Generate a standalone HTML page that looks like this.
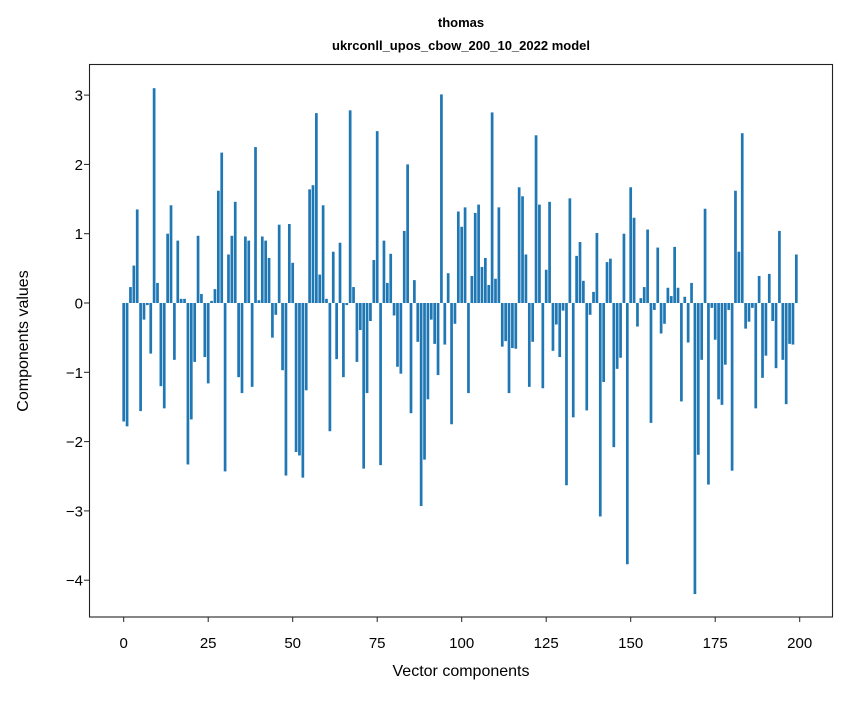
<!DOCTYPE html>
<html><head><meta charset="utf-8"><style>
body{margin:0;background:#fff;font-family:"Liberation Sans","DejaVu Sans",sans-serif}
</style></head><body>
<svg id="chart" width="847" height="696" xmlns="http://www.w3.org/2000/svg">
<rect width="847" height="696" fill="#fff"/>
<text x="461" y="27" text-anchor="middle" font-size="13" font-weight="bold">thomas</text>
<text x="461" y="50" text-anchor="middle" font-size="13" font-weight="bold">ukrconll_upos_cbow_200_10_2022 model</text>
<g id="bars"></g>
<g id="axes"></g>
<rect x="89.5" y="64.5" width="743" height="552.5" fill="none" stroke="#222" stroke-width="1.1"/>
<text x="461" y="676" text-anchor="middle" font-size="16">Vector components</text>
<text transform="translate(28,341) rotate(-90)" text-anchor="middle" font-size="16">Components values</text>
</svg>
<script>
const values = [-1.71,-1.78,0.23,0.54,1.35,-1.56,-0.24,-0.03,-0.73,3.10,0.29,-1.20,-1.52,1.00,1.41,-0.82,0.90,0.06,0.06,-2.33,
-1.68,-0.85,0.97,0.13,-0.78,-1.16,0.03,0.20,1.62,2.17,-2.43,0.70,0.97,1.46,-1.07,-1.30,0.96,0.90,-1.21,2.25,
0.04,0.96,0.90,0.65,-0.50,-0.17,1.13,-0.97,-2.49,1.14,0.58,-2.15,-2.20,-2.52,-1.26,1.64,1.70,2.74,0.41,1.41,
0.06,-1.85,0.74,-0.81,0.87,-1.07,-0.03,2.78,0.23,-0.85,-0.39,-2.39,-1.30,-0.26,0.62,2.48,-2.34,0.90,0.29,0.71,
-0.18,-0.92,-1.02,1.04,2.00,-1.59,0.33,-0.56,-2.93,-2.26,-1.39,-0.24,-0.59,-1.04,3.01,-0.60,0.43,-1.75,-0.30,1.32,
1.10,1.38,-1.30,0.39,1.30,1.42,0.52,0.65,0.26,2.75,0.35,1.38,-0.63,-0.55,-1.30,-0.65,-0.66,1.67,1.54,0.70,
-1.21,-0.56,2.42,1.42,-1.23,0.48,1.46,-0.69,-0.31,-0.78,-0.11,-2.63,1.51,-1.65,0.68,0.88,0.32,-1.55,-0.17,0.16,
1.01,-3.08,-1.14,0.59,0.64,-2.08,-0.95,-0.79,1.00,-3.77,1.67,1.23,-0.34,0.07,0.23,1.06,-1.73,-0.10,0.80,-0.44,
-0.30,0.22,0.10,0.81,0.22,-1.42,0.09,-0.57,0.29,-4.20,-2.19,-0.82,1.36,-2.62,-0.07,-0.53,-1.39,-1.47,-0.89,-0.10,
-2.42,1.62,0.74,2.45,-0.37,-0.27,-0.07,-1.52,0.39,-1.08,-0.76,0.42,-0.26,-0.94,1.04,-0.82,-1.46,-0.59,-0.60,0.70];
const xTicks = [0,25,50,75,100,125,150,175,200];
const yTicks = [-4,-3,-2,-1,0,1,2,3];
const NS="http://www.w3.org/2000/svg";
function xs(v){return 123.7+v*3.38;}
function ys(v){return 303-v*69.3;}
const bars=document.getElementById('bars');
values.forEach((v,i)=>{
  const r=document.createElementNS(NS,'rect');
  const w=0.8*3.38;
  r.setAttribute('x',xs(i)-w/2);
  r.setAttribute('y',Math.min(ys(v),ys(0)));
  r.setAttribute('width',w);
  r.setAttribute('height',Math.abs(ys(v)-ys(0)));
  r.setAttribute('fill','#1f77b4');
  
  
  bars.appendChild(r);
});
const axes=document.getElementById('axes');
xTicks.forEach(t=>{
  const l=document.createElementNS(NS,'line');
  l.setAttribute('x1',xs(t));l.setAttribute('x2',xs(t));
  l.setAttribute('y1',617);l.setAttribute('y2',622);
  l.setAttribute('stroke','#222');
  
  
  axes.appendChild(l);
  const tx=document.createElementNS(NS,'text');
  tx.setAttribute('x',xs(t));tx.setAttribute('y',648);
  tx.setAttribute('text-anchor','middle');tx.setAttribute('font-size','15');
  tx.textContent=t;
  
  
  axes.appendChild(tx);
});
yTicks.forEach(t=>{
  const l=document.createElementNS(NS,'line');
  l.setAttribute('x1',84);l.setAttribute('x2',89.5);
  l.setAttribute('y1',ys(t));l.setAttribute('y2',ys(t));
  l.setAttribute('stroke','#222');
  
  
  axes.appendChild(l);
  const tx=document.createElementNS(NS,'text');
  tx.setAttribute('x',83);tx.setAttribute('y',ys(t)+5.5);
  tx.setAttribute('text-anchor','end');tx.setAttribute('font-size','15');
  tx.textContent=t<0?'\u2212'+(-t):String(t);
  
  
  axes.appendChild(tx);
});
</script>
</body></html>
